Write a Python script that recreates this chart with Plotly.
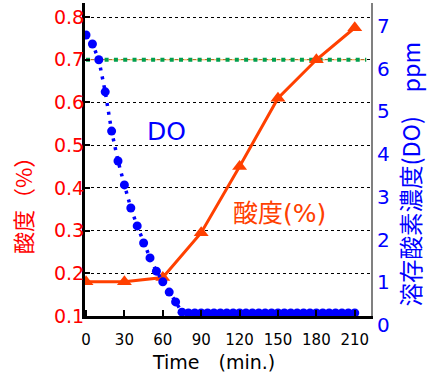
import plotly.graph_objects as go

# ---- data ----
acid_time = [0, 30, 60, 90, 120, 150, 180, 210]
acid_pct = [0.18, 0.18, 0.19, 0.295, 0.45, 0.61, 0.70, 0.775]

do_time = [0, 5, 10, 15, 20, 25, 30, 35, 40, 45, 50, 55, 60, 65, 70, 75,
           80, 85, 90, 95, 100, 105, 110, 115, 120, 125, 130, 135, 140, 145,
           150, 155, 160, 165, 170, 175, 180, 185, 190, 195, 200, 205, 210]
do_ppm = [6.58, 6.37, 6.00, 5.25, 4.33, 3.63, 3.07, 2.53, 2.11, 1.71, 1.36, 1.05,
          0.80, 0.56, 0.33, 0.09,
          0.07, 0.07, 0.07, 0.07, 0.07, 0.07, 0.07, 0.07, 0.07, 0.07, 0.07, 0.07,
          0.07, 0.07, 0.07, 0.07, 0.07, 0.07, 0.07, 0.07, 0.07, 0.07, 0.07, 0.07,
          0.07, 0.07, 0.07]

ref_level = 0.7
ref_span = [0, 219]

x_ticks = [0, 30, 60, 90, 120, 150, 180, 210]
left_ticks = [0.1, 0.2, 0.3, 0.4, 0.5, 0.6, 0.7, 0.8]
left_ticktext = ["0.1", "0.2", "0.3", "0.4", "0.5", "0.6", "0.7", "0.8"]
right_ticks = [0, 1, 2, 3, 4, 5, 6, 7]

x_title = "Time　(min.)"
left_title = "酸度（%）"
right_title = "溶存酸素濃度(DO)　ppm"

ACID = "#FF4000"
BLUE = "#0000FF"
FONT = "DejaVu Sans, Noto Sans CJK JP"
CJK = "Noto Sans CJK JP"

fig = go.Figure()

# reference level line (orange thin line under green dots)
fig.add_trace(go.Scatter(x=ref_span, y=[ref_level, ref_level], mode="lines",
                         line=dict(color="#F0A040", width=1), hoverinfo="skip",
                         showlegend=False))
fig.add_trace(go.Scatter(x=ref_span, y=[ref_level, ref_level], mode="lines",
                         line=dict(color="#00A050", width=4, dash="4px,5.3px"),
                         hoverinfo="skip", showlegend=False))

# acidity
fig.add_trace(go.Scatter(x=acid_time, y=acid_pct, mode="lines+markers",
                         line=dict(color=ACID, width=3),
                         marker=dict(symbol="triangle-up", size=13, color=ACID),
                         name="酸度(%)", showlegend=False))

# dissolved oxygen
fig.add_trace(go.Scatter(x=do_time, y=do_ppm, mode="lines+markers", yaxis="y2",
                         line=dict(color=BLUE, width=3.5, dash="3px,6px"),
                         marker=dict(symbol="circle", size=9, color=BLUE),
                         name="DO", showlegend=False))

# in-plot labels
fig.add_annotation(x=62.5, y=0.531, xref="x", yref="y", text="DO", showarrow=False,
                   font=dict(family=FONT, size=25, color=BLUE))
fig.add_annotation(x=151.2, y=0.339, xref="x", yref="y", text="酸度(%)", showarrow=False,
                   font=dict(family=FONT, size=25, color=ACID))

# axis titles (placed off-centre as in the original)
fig.add_annotation(x=0.451, y=-0.147, xref="paper", yref="paper", text=x_title,
                   showarrow=False, xanchor="center", yanchor="middle",
                   font=dict(family=FONT, size=19, color="black"))
fig.add_annotation(x=0, xshift=-63, y=0.3706, xref="paper", yref="paper", text=left_title,
                   textangle=-90, showarrow=False, xanchor="center", yanchor="middle",
                   font=dict(family=CJK, size=22, color="#FF0000"))
fig.add_annotation(x=1, xshift=39, y=0.452, xref="paper", yref="paper", text=right_title,
                   textangle=-90, showarrow=False, xanchor="center", yanchor="middle",
                   font=dict(family=CJK, size=23.5, color=BLUE))

fig.update_layout(
    width=432, height=382,
    margin=dict(l=85, r=61, t=3, b=66, autoexpand=False),
    paper_bgcolor="white", plot_bgcolor="white",
    font=dict(family=FONT),
    xaxis=dict(range=[-0.8, 222.7], tickvals=x_ticks, ticks="inside", ticklen=6,
               tickwidth=2, tickcolor="black", showline=True, linecolor="black",
               linewidth=3, showgrid=False, zeroline=False, ticklabelstandoff=8,
               tickfont=dict(family=FONT, size=15, color="black")),
    yaxis=dict(range=[0.1, 0.833], tickvals=left_ticks, ticktext=left_ticktext,
               ticks="inside", ticklen=5, tickwidth=2, tickcolor="black",
               showline=True, linecolor="black", linewidth=3,
               showgrid=True, gridcolor="black", gridwidth=1, griddash="dot",
               zeroline=False, ticklabelstandoff=-6,
               tickfont=dict(family=FONT, size=19, color="#FF0000")),
    yaxis2=dict(range=[0, 7.33], tickvals=right_ticks, overlaying="y", side="right",
                showline=True, linecolor="#808080", linewidth=2, showgrid=False,
                zeroline=False, ticks="", ticklabelshift=9,
                tickfont=dict(family=FONT, size=20, color=BLUE)),
)

fig.write_html("out.html", config={"displayModeBar": False},
               post_script="document.body.style.margin='0';")
